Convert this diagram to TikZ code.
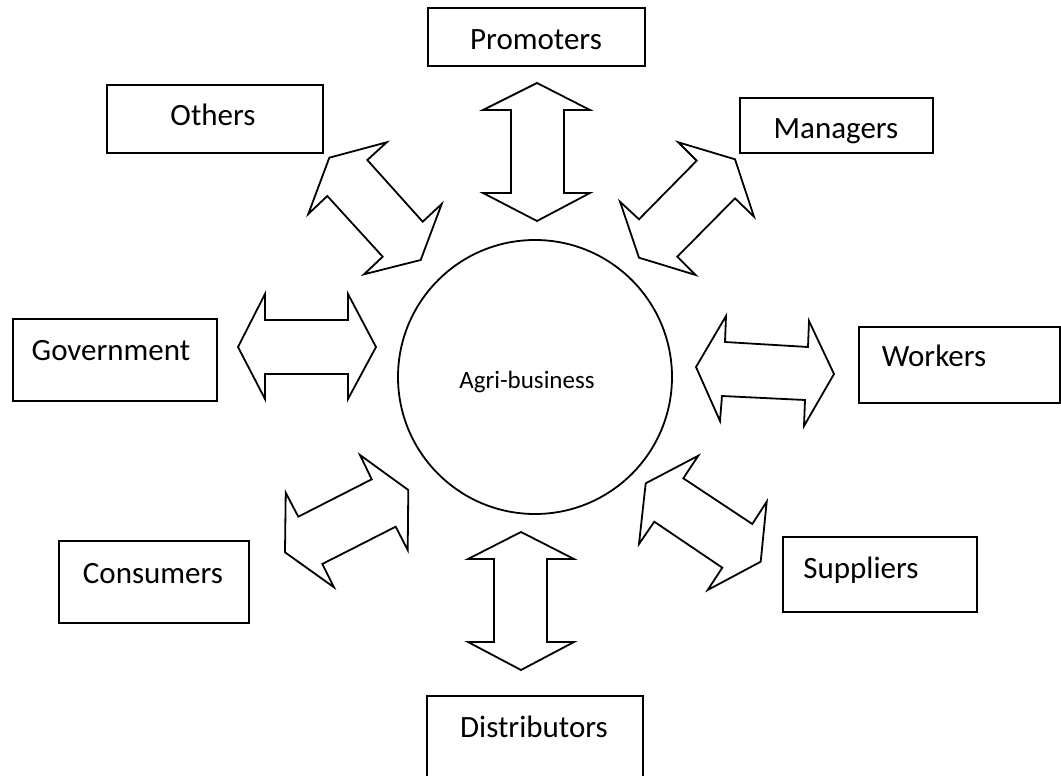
\documentclass[tikz,border=0pt]{standalone}
\usepackage{fontspec}
\setmainfont{Carlito}
\usetikzlibrary{positioning}
\tikzset{box/.style = {draw, line width = 2pt, inner sep = 0, anchor = north west}}
\tikzset{lbl/.style = {font = \fontsize{31}{36}\selectfont, anchor = base, inner sep = 0}}
\tikzset{blk/.style = {draw, line width = 1.8pt, line join = miter}}

\begin{document}
\begin{tikzpicture}[x=1pt, y=-1pt]
      \useasboundingbox (0, 0) rectangle (1061, 776);
      % centre
      \node [draw, circle, line width = 1.8pt, minimum size = 274pt, inner sep = 0] (hub) at (535, 377) {};
      \node [lbl, font = \fontsize{25}{30}\selectfont] (hub-t) at (527, 388) {Agri-business};
      % boxes
      \node [box, minimum width = 217pt, minimum height = 58pt] (prom) at (427, 7) {};
      \node [lbl] (prom-t) at (536, 50) {Promoters};
      \node [box, minimum width = 216pt, minimum height = 68pt] (oth) at (106, 84) {};
      \node [lbl] (oth-t) at (213, 125) {Others};
      \node [box, minimum width = 193pt, minimum height = 55pt] (man) at (739, 97) {};
      \node [lbl] (man-t) at (836, 139) {Managers};
      \node [box, minimum width = 204pt, minimum height = 82pt] (gov) at (12, 318) {};
      \node [lbl] (gov-t) at (111, 360) {Government};
      \node [box, minimum width = 201pt, minimum height = 76pt] (work) at (858, 326) {};
      \node [lbl] (work-t) at (934, 366) {Workers};
      \node [box, minimum width = 194pt, minimum height = 75pt] (sup) at (782, 536) {};
      \node [lbl] (sup-t) at (861, 578) {Suppliers};
      \node [box, minimum width = 190pt, minimum height = 82pt] (cons) at (58, 540) {};
      \node [lbl] (cons-t) at (153, 583) {Consumers};
      \node [box, minimum width = 216pt, minimum height = 90pt] (dist) at (426, 695) {};
      \node [lbl] (dist-t) at (534, 737) {Distributors};
      % double arrows
      \draw [blk] (537, 83) -- (590, 110) -- (564, 110) -- (564, 193) -- (590, 193) -- (537, 221)
                  -- (483, 193) -- (511, 193) -- (511, 110) -- (483, 110) -- cycle;
      \draw [blk] (521, 532) -- (574, 559) -- (547, 559) -- (547, 642) -- (574, 642) -- (521, 670)
                  -- (468, 642) -- (494, 642) -- (494, 559) -- (468, 559) -- cycle;
      \draw [blk] (238, 347) -- (265, 294) -- (265, 320) -- (348, 320) -- (348, 294) -- (376, 347)
                  -- (348, 399) -- (348, 374) -- (265, 374) -- (265, 399) -- cycle;
      \draw [blk] (696, 367) -- (726, 316) -- (725, 342) -- (808, 347) -- (809, 321) -- (834, 374)
                  -- (804, 426) -- (805, 400) -- (722, 396) -- (720, 421) -- cycle;
      \draw [blk] (386.7, 142.3) -- (367.3, 160) -- (422.7, 221.7) -- (441.7, 204) -- (420.7, 260)
                  -- (364, 274.3) -- (382.7, 256.7) -- (327.3, 196) -- (308.3, 214) -- (329.3, 157.7) -- cycle;
      \draw [blk] (678.3, 142.3) -- (735, 159.3) -- (754, 216.7) -- (735, 198.3) -- (677.3, 256.7)
                  -- (695.7, 275) -- (639, 257.7) -- (620, 201.7) -- (639, 219.3) -- (696.7, 160.7) -- cycle;
      \draw [blk] (360, 455) -- (408.3, 490) -- (407.7, 550) -- (395.7, 526.7) -- (322.3, 564)
                  -- (334, 587.3) -- (285, 552.3) -- (285.7, 492.7) -- (298.3, 516.7) -- (371.7, 479.3) -- cycle;
      \draw [blk] (698.3, 455.7) -- (683.3, 478.3) -- (752.3, 524) -- (766.7, 501.7) -- (760.7, 561.7)
                  -- (707.7, 590) -- (722.3, 567.7) -- (654.3, 521.7) -- (639, 544) -- (645.7, 483.3) -- cycle;
    \end{tikzpicture}
\end{document}
